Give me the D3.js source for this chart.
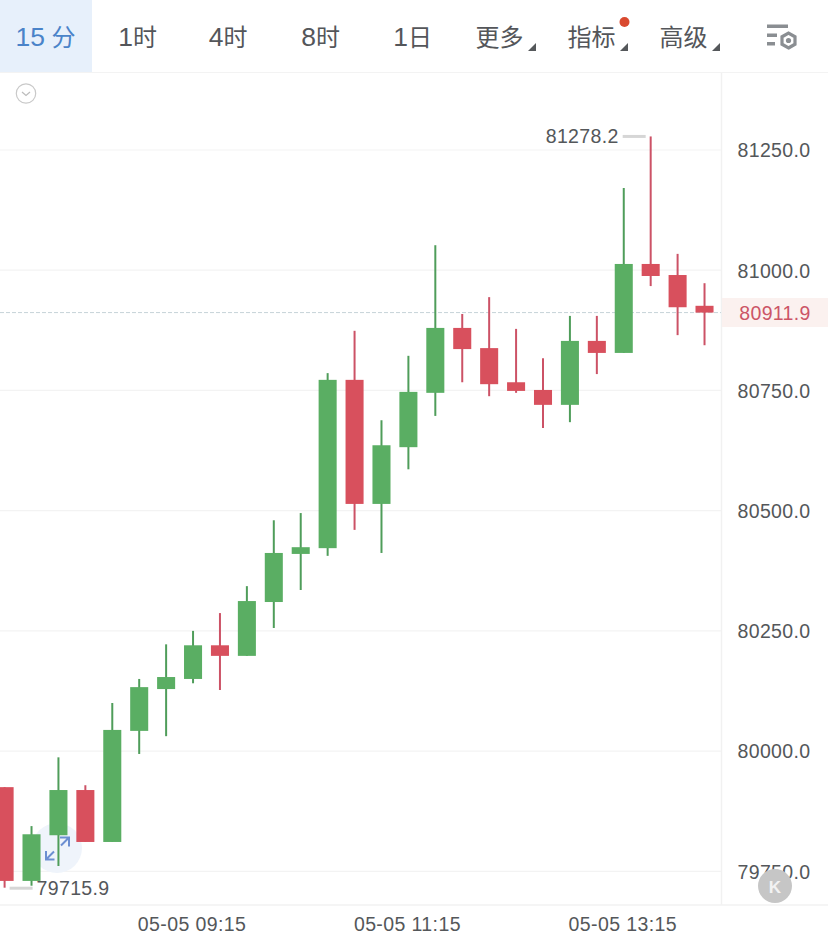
<!DOCTYPE html>
<html><head><meta charset="utf-8">
<script src="https://cdnjs.cloudflare.com/ajax/libs/d3/7.8.5/d3.min.js"></script>
<style>
html,body{margin:0;padding:0;background:#fff;overflow:hidden}
svg{display:block}
text{font-family:"Liberation Sans","Noto Sans CJK SC",sans-serif}
.axis .domain,.axis line{display:none}
</style></head><body><svg id="c" width="828" height="941"></svg>
<script>
const times=["07:30","07:45","08:00","08:15","08:30","08:45","09:00","09:15","09:30","09:45","10:00","10:15","10:30","10:45","11:00","11:15","11:30","11:45","12:00","12:15","12:30","12:45","13:00","13:15","13:30","13:45","14:00"];
const opens=[79925,79730,79825,79919,79811,80042,80129,80150,80220,80198,80310,80410,80422,80772,80514,80632,80745,80880,80838,80767,80751,80720,80853,80828,81013,80990,80926];
const closes=[79730,79827,79919,79811,80044,80133,80154,80220,80198,80312,80412,80424,80772,80514,80636,80747,80880,80836,80763,80749,80720,80853,80828,81013,80988,80923,80911.9];
const highs=[79925,79844,79987,79929,80100,80150,80222,80250,80287,80343,80480,80495,80786,80874,80688,80822,81052,80909,80944,80878,80817,80905,80905,81171,81278.2,81034,80973];
const lows=[79715.9,79720,79761,79811,79811,79994,80031,80141,80127,80198,80256,80335,80406,80460,80412,80586,80697,80767,80738,80745,80672,80684,80784,80828,80967,80865,80844];
const priceTicks=[81250,81000,80750,80500,80250,80000,79750];
const timeTicks=["09:15","11:15","13:15"];
const lastPrice=80911.9, maxPrice=81278.2, minPrice=79715.9;
const tabs=[["15"," 分",45.5],["1","时",137.5],["4","时",228],["8","时",320.5],["1","日",412.5],["","更多",499.5],["","指标",591.5],["","高级",683.5]];
const GREEN="#5aae63",RED="#d8505d",GREENW="#4f9d5a",REDW="#cc5266",TXT="#54575a";

const svg=d3.select("#c");
const PL=721, BOT=905;
const step=26.92, x0=4.6-step/2;
const x=d3.scaleBand().domain(times).range([x0,x0+step*times.length]).paddingInner(0.33).paddingOuter(0.165);
const y=d3.scaleLinear().domain([79750,81250]).range([871.3,150]);
const cx=t=>x(t)+x.bandwidth()/2;

svg.append("rect").attr("width",828).attr("height",941).attr("fill","#fff");
svg.append("rect").attr("width",92).attr("height",72).attr("fill","#e7f0fb");
svg.append("line").attr("x1",0).attr("x2",828).attr("y1",72.5).attr("y2",72.5).attr("stroke","#f3f3f3");
svg.append("line").attr("x1",721.5).attr("x2",721.5).attr("y1",73).attr("y2",BOT).attr("stroke","#f1f1f1").attr("stroke-width",1.5);
svg.append("line").attr("x1",0).attr("x2",828).attr("y1",BOT).attr("y2",BOT).attr("stroke","#f2f2f2").attr("stroke-width",1.5);

// tabs
const tabT=svg.selectAll(".tab").data(tabs).join("text").attr("class","tab")
  .attr("x",d=>d[2]).attr("y",46).attr("text-anchor","middle")
  .attr("fill",(d,i)=>i?"#54565a":"#4a83c9");
tabT.append("tspan").attr("font-size",26.5).text(d=>d[0]);
tabT.append("tspan").attr("font-size",24).text(d=>d[1]);
[[528,51],[620,51],[712,51]].forEach(p=>svg.append("path")
  .attr("d",`M${p[0]},${p[1]}h8v-8z`).attr("fill","#55585b"));
svg.append("circle").attr("cx",624.5).attr("cy",22).attr("r",5).attr("fill","#d9492f");

// settings icon
const g=svg.append("g").attr("fill","#8a8e92");
g.append("rect").attr("x",767).attr("y",24.5).attr("width",21).attr("height",3.5);
g.append("rect").attr("x",767).attr("y",33.5).attr("width",10).attr("height",3.5);
g.append("rect").attr("x",767).attr("y",42).attr("width",8).attr("height",3.5);
svg.append("path").attr("d",d3.range(6).map(i=>{const a=Math.PI/3*i;return (i?"L":"M")+(788.5+7.5*Math.sin(a))+","+(40.5+7.5*Math.cos(a))}).join("")+"Z")
  .attr("fill","none").attr("stroke","#8a8e92").attr("stroke-width",3.2);
svg.append("circle").attr("cx",788.5).attr("cy",40.5).attr("r",2.6).attr("fill","#8a8e92");

// collapse icon
svg.append("circle").attr("cx",26).attr("cy",93.5).attr("r",9.7).attr("fill","#fff").attr("stroke","#c9c9c9").attr("stroke-width",1.2);
svg.append("path").attr("d","M22,92l4,3.5l4,-3.5").attr("fill","none").attr("stroke","#bcbcbc").attr("stroke-width",1.2);

// grid
svg.append("g").selectAll("line").data(priceTicks).join("line")
  .attr("x1",0).attr("x2",PL).attr("y1",d=>y(d)).attr("y2",d=>y(d)).attr("stroke","#f3f3f3").attr("stroke-width",1.2);

// last price tag + line
svg.append("rect").attr("x",722).attr("y",298).attr("width",106).attr("height",29).attr("fill","#fbf1ef");
svg.append("line").attr("x1",0).attr("x2",PL).attr("y1",y(lastPrice)).attr("y2",y(lastPrice))
  .attr("stroke","#c6d3d8").attr("stroke-width",1).attr("stroke-dasharray","4 2");

// expand button background
svg.append("circle").attr("cx",57).attr("cy",848).attr("r",25).attr("fill","#eff4fb");

// candles
const idx=d3.range(times.length);
const up=i=>closes[i]>=opens[i];
svg.append("g").selectAll("line").data(idx).join("line")
  .attr("x1",i=>cx(times[i])).attr("x2",i=>cx(times[i]))
  .attr("y1",i=>y(highs[i])).attr("y2",i=>y(lows[i]))
  .attr("stroke",i=>up(i)?GREENW:REDW).attr("stroke-width",2);
svg.append("g").selectAll("rect").data(idx).join("rect")
  .attr("x",i=>x(times[i])).attr("width",x.bandwidth())
  .attr("y",i=>y(Math.max(opens[i],closes[i])))
  .attr("height",i=>Math.abs(y(opens[i])-y(closes[i])))
  .attr("fill",i=>up(i)?GREEN:RED);

// expand arrows
svg.append("path").attr("d","M46,851v8.5h8.5M46,859.5l8,-8M60,837.5h9v9M69,837.5l-8,8")
  .attr("fill","none").attr("stroke","#6c8fd2").attr("stroke-width",2);

// axes
const FS=19.5, LS=0.35;
const yAxis=d3.axisRight(y).tickValues(priceTicks).tickSize(0).tickPadding(0).tickFormat(d3.format(".1f"));
const ya=svg.append("g").attr("class","axis").attr("transform","translate(774,0)").call(yAxis);
ya.attr("font-family",null);
ya.selectAll("text").attr("x",0).attr("text-anchor","middle").attr("font-size",FS).attr("letter-spacing",LS).attr("fill",TXT).attr("dy","0.35em");
const xAxis=d3.axisBottom(x).tickValues(timeTicks).tickSize(0).tickPadding(0).tickFormat(t=>"05-05 "+t);
const xa=svg.append("g").attr("class","axis").attr("transform","translate(-1,931)").call(xAxis);
xa.attr("font-family",null);
xa.selectAll("text").attr("y",0).attr("dy",0).attr("font-size",FS).attr("letter-spacing",0.4).attr("fill",TXT);

svg.append("text").attr("x",775).attr("y",y(lastPrice)+7).attr("text-anchor","middle").attr("font-size",FS).attr("letter-spacing",LS).attr("fill","#cc5566").text(lastPrice.toFixed(1));

// max / min markers
const maxX=cx(times[highs.indexOf(maxPrice)]), minX=cx(times[lows.indexOf(minPrice)]);
svg.append("line").attr("x1",maxX-28).attr("x2",maxX-5).attr("y1",y(maxPrice)).attr("y2",y(maxPrice)).attr("stroke","#d6d6d6").attr("stroke-width",3);
svg.append("text").attr("x",maxX-32).attr("y",y(maxPrice)+6.5).attr("text-anchor","end").attr("font-size",FS).attr("letter-spacing",LS).attr("fill",TXT).text(maxPrice.toFixed(1));
svg.append("line").attr("x1",minX+5).attr("x2",minX+28).attr("y1",y(minPrice)+0.5).attr("y2",y(minPrice)+0.5).attr("stroke","#d6d6d6").attr("stroke-width",3);
svg.append("text").attr("x",minX+32).attr("y",y(minPrice)+7).attr("font-size",FS).attr("letter-spacing",LS).attr("fill",TXT).text(minPrice.toFixed(1));

// K button
svg.append("circle").attr("cx",775).attr("cy",886).attr("r",17).attr("fill","#c6c6c6");
svg.append("text").attr("x",775).attr("y",892.5).attr("text-anchor","middle").attr("font-size",17).attr("font-weight",700).attr("fill","#f2f2f2").text("K");
</script></body></html>
